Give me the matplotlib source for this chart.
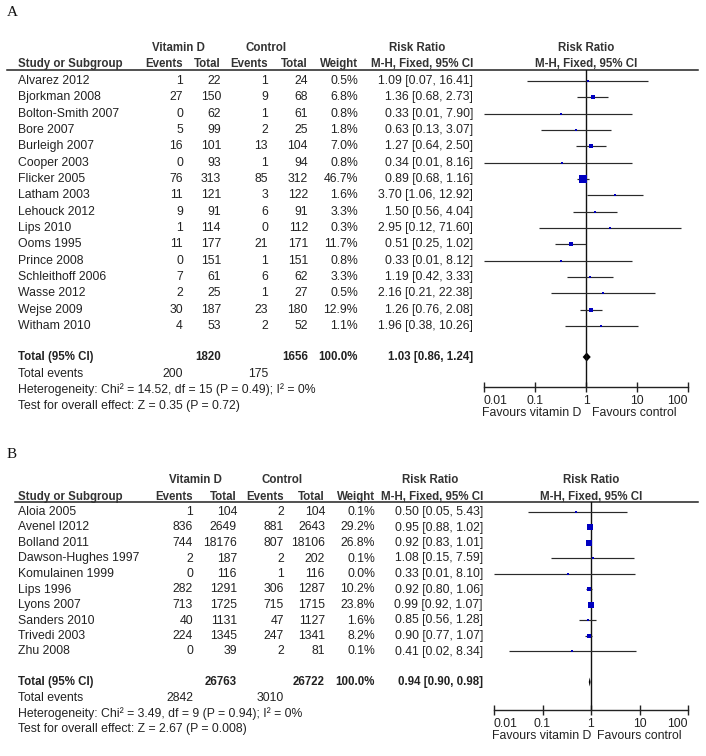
import matplotlib
matplotlib.use("Agg")
import matplotlib.pyplot as plt
import numpy as np

W, H = 706, 756
plt.rcParams['font.family'] = ['Liberation Sans', 'DejaVu Sans']

# ---------------- Data: panel A ----------------
studies_a = ["Alvarez 2012", "Bjorkman 2008", "Bolton-Smith 2007", "Bore 2007", "Burleigh 2007",
             "Cooper 2003", "Flicker 2005", "Latham 2003", "Lehouck 2012", "Lips 2010",
             "Ooms 1995", "Prince 2008", "Schleithoff 2006", "Wasse 2012", "Wejse 2009", "Witham 2010"]
ev_d_a = [1, 27, 0, 5, 16, 0, 76, 11, 9, 1, 11, 0, 7, 2, 30, 4]
tot_d_a = [22, 150, 62, 99, 101, 93, 313, 121, 91, 114, 177, 151, 61, 25, 187, 53]
ev_c_a = [1, 9, 1, 2, 13, 1, 85, 3, 6, 0, 21, 1, 6, 1, 23, 2]
tot_c_a = [24, 68, 61, 25, 104, 94, 312, 122, 91, 112, 171, 151, 62, 27, 180, 52]
weight_a = [0.5, 6.8, 0.8, 1.8, 7.0, 0.8, 46.7, 1.6, 3.3, 0.3, 11.7, 0.8, 3.3, 0.5, 12.9, 1.1]
rr_a = [1.09, 1.36, 0.33, 0.63, 1.27, 0.34, 0.89, 3.70, 1.50, 2.95, 0.51, 0.33, 1.19, 2.16, 1.26, 1.96]
lo_a = [0.07, 0.68, 0.01, 0.13, 0.64, 0.01, 0.68, 1.06, 0.56, 0.12, 0.25, 0.01, 0.42, 0.21, 0.76, 0.38]
hi_a = [16.41, 2.73, 7.90, 3.07, 2.50, 8.16, 1.16, 12.92, 4.04, 71.60, 1.02, 8.12, 3.33, 22.38, 2.08, 10.26]
total_a = dict(tot_d="1820", tot_c="1656", weight="100.0%", rr=1.03, lo=0.86, hi=1.24,
               ev_d="200", ev_c="175",
               het="Heterogeneity: Chi\u00b2 = 14.52, df = 15 (P = 0.49); I\u00b2 = 0%",
               test="Test for overall effect: Z = 0.35 (P = 0.72)")

# ---------------- Data: panel B ----------------
studies_b = ["Aloia 2005", "Avenel I2012", "Bolland 2011", "Dawson-Hughes 1997", "Komulainen 1999",
             "Lips 1996", "Lyons 2007", "Sanders 2010", "Trivedi 2003", "Zhu 2008"]
ev_d_b = [1, 836, 744, 2, 0, 282, 713, 40, 224, 0]
tot_d_b = [104, 2649, 18176, 187, 116, 1291, 1725, 1131, 1345, 39]
ev_c_b = [2, 881, 807, 2, 1, 306, 715, 47, 247, 2]
tot_c_b = [104, 2643, 18106, 202, 116, 1287, 1715, 1127, 1341, 81]
weight_b = [0.1, 29.2, 26.8, 0.1, 0.0, 10.2, 23.8, 1.6, 8.2, 0.1]
rr_b = [0.50, 0.95, 0.92, 1.08, 0.33, 0.92, 0.99, 0.85, 0.90, 0.41]
lo_b = [0.05, 0.88, 0.83, 0.15, 0.01, 0.80, 0.92, 0.56, 0.77, 0.02]
hi_b = [5.43, 1.02, 1.01, 7.59, 8.10, 1.06, 1.07, 1.28, 1.07, 8.34]
total_b = dict(tot_d="26763", tot_c="26722", weight="100.0%", rr=0.94, lo=0.90, hi=0.98,
               ev_d="2842", ev_c="3010",
               het="Heterogeneity: Chi\u00b2 = 3.49, df = 9 (P = 0.94); I\u00b2 = 0%",
               test="Test for overall effect: Z = 2.67 (P = 0.008)")

axis_ticks = [0.01, 0.1, 1, 10, 100]
axis_labels = ["0.01", "0.1", "1", "10", "100"]

FS = 8.8      # regular text
FSB = 8.3     # bold text
TXT = "#222222"
HDR = "#333333"
BLUE = "#0000C0"
LINE = "#2a2a2a"

fig = plt.figure(figsize=(W / 100, H / 100), dpi=100)
fig.patch.set_facecolor("white")
ov = fig.add_axes([0, 0, 1, 1])
ov.set_xlim(0, W)
ov.set_ylim(H, 0)
ov.axis("off")


def t(x, y, s, ha="left", bold=False, color=TXT, **kw):
    ov.text(x, y, s, ha=ha, va="center", fontsize=FSB if bold else FS, color=color,
            fontweight="bold" if bold else "normal", **kw)


def panel(label, lab_y, studies, ev_d, tot_d, ev_c, tot_c, weight, rr, lo, hi, tot,
          cols, hdr1_y, hdr2_y, uline_y, uline_x0, row0, dy, tot_y, ev_y, het_y, test_y,
          fx0, fx1, fx_center, axis_y, k_sq):
    c_ev1, c_tot1, c_ev2, c_tot2, c_w, c_rr, c_vd, c_ctl, c_rrh = cols
    ov.text(7, lab_y, label, ha="left", va="center", fontsize=11,
            family="Liberation Serif", color="#111111")
    # headers
    t(c_vd, hdr1_y, "Vitamin D", ha="center", bold=True, color=HDR)
    t(c_ctl, hdr1_y, "Control", ha="center", bold=True, color=HDR)
    t(c_rrh, hdr1_y, "Risk Ratio", ha="center", bold=True, color=HDR)
    t(fx_center, hdr1_y, "Risk Ratio", ha="center", bold=True, color=HDR)
    t(18, hdr2_y, "Study or Subgroup", bold=True, color=HDR)
    t(c_ev1, hdr2_y, "Events", ha="right", bold=True, color=HDR)
    t(c_tot1, hdr2_y, "Total", ha="right", bold=True, color=HDR)
    t(c_ev2, hdr2_y, "Events", ha="right", bold=True, color=HDR)
    t(c_tot2, hdr2_y, "Total", ha="right", bold=True, color=HDR)
    t(c_w, hdr2_y, "Weight", ha="right", bold=True, color=HDR)
    t(c_rr, hdr2_y, "M-H, Fixed, 95% CI", ha="right", bold=True, color=HDR)
    t(fx_center, hdr2_y, "M-H, Fixed, 95% CI", ha="center", bold=True, color=HDR)
    ov.plot([uline_x0, 698], [uline_y, uline_y], color="#222222", lw=1.1)

    ys = [row0 + i * dy for i in range(len(studies))]
    for i, y in enumerate(ys):
        t(18, y, studies[i])
        t(c_ev1, y, str(ev_d[i]), ha="right")
        t(c_tot1, y, str(tot_d[i]), ha="right")
        t(c_ev2, y, str(ev_c[i]), ha="right")
        t(c_tot2, y, str(tot_c[i]), ha="right")
        t(c_w, y, f"{weight[i]:.1f}%", ha="right")
        t(c_rr, y, f"{rr[i]:.2f} [{lo[i]:.2f}, {hi[i]:.2f}]", ha="right")

    t(18, tot_y, "Total (95% CI)", bold=True)
    t(c_tot1, tot_y, tot["tot_d"], ha="right", bold=True)
    t(c_tot2, tot_y, tot["tot_c"], ha="right", bold=True)
    t(c_w, tot_y, tot["weight"], ha="right", bold=True)
    t(c_rr, tot_y, f"{tot['rr']:.2f} [{tot['lo']:.2f}, {tot['hi']:.2f}]", ha="right", bold=True)
    t(18, ev_y, "Total events")
    t(c_ev1, ev_y, tot["ev_d"], ha="right")
    t(c_ev2, ev_y, tot["ev_c"], ha="right")
    t(18, het_y, tot["het"])
    t(18, test_y, tot["test"])

    # forest axes
    fa = fig.add_axes([fx0 / W, 1 - axis_y / H, (fx1 - fx0) / W, (axis_y - uline_y) / H])
    fa.patch.set_alpha(0)
    fa.set_xscale("log")
    fa.set_xlim(axis_ticks[0], axis_ticks[-1])
    fa.set_ylim(axis_y, uline_y)
    for s in ["top", "right", "left"]:
        fa.spines[s].set_visible(False)
    fa.spines["bottom"].set_color("#222222")
    fa.spines["bottom"].set_linewidth(1.0)
    fa.set_yticks([])
    fa.set_xticks(axis_ticks)
    fa.set_xticklabels(axis_labels)
    fa.minorticks_off()
    fa.tick_params(axis="x", direction="inout", length=7, width=1.0, color="#222222",
                   labelsize=FS, labelcolor=TXT, pad=2)
    labs = fa.get_xticklabels()
    labs[0].set_horizontalalignment("left")
    labs[-1].set_horizontalalignment("right")
    fa.axvline(1, color="#111111", lw=1.0)
    for i, y in enumerate(ys):
        fa.plot([lo[i], hi[i]], [y, y], color=LINE, lw=0.85, solid_capstyle="butt")
        side = max(k_sq * np.sqrt(weight[i]), 2.0)
        fa.plot([rr[i]], [y], marker="s", ms=side * 0.72, color=BLUE, mec=BLUE, mew=0)
    dh = 4.5
    fa.fill([tot["lo"], tot["rr"], tot["hi"], tot["rr"]],
            [tot_y, tot_y - dh, tot_y, tot_y + dh], color="black", lw=0)

    t(fx0 - 2, axis_y + 26, "Favours vitamin D")
    t(fx_center + 6, axis_y + 26, "Favours control")


panel("A", 13, studies_a, ev_d_a, tot_d_a, ev_c_a, tot_c_a, weight_a, rr_a, lo_a, hi_a, total_a,
      cols=(183, 221, 268, 308, 358, 473, 178, 266, 417),
      hdr1_y=48, hdr2_y=64, uline_y=70, uline_x0=7, row0=81, dy=16.33,
      tot_y=357, ev_y=374, het_y=390, test_y=406,
      fx0=484, fx1=688, fx_center=586, axis_y=387, k_sq=1.21)

panel("B", 455, studies_b, ev_d_b, tot_d_b, ev_c_b, tot_c_b, weight_b, rr_b, lo_b, hi_b, total_b,
      cols=(193, 237, 284, 325, 375, 483, 195, 282, 430),
      hdr1_y=480, hdr2_y=497, uline_y=502, uline_x0=15, row0=512, dy=15.5,
      tot_y=682, ev_y=698, het_y=714, test_y=729,
      fx0=494, fx1=688, fx_center=591, axis_y=710, k_sq=1.05)

fig.savefig("out.png", dpi=100, facecolor="white")
